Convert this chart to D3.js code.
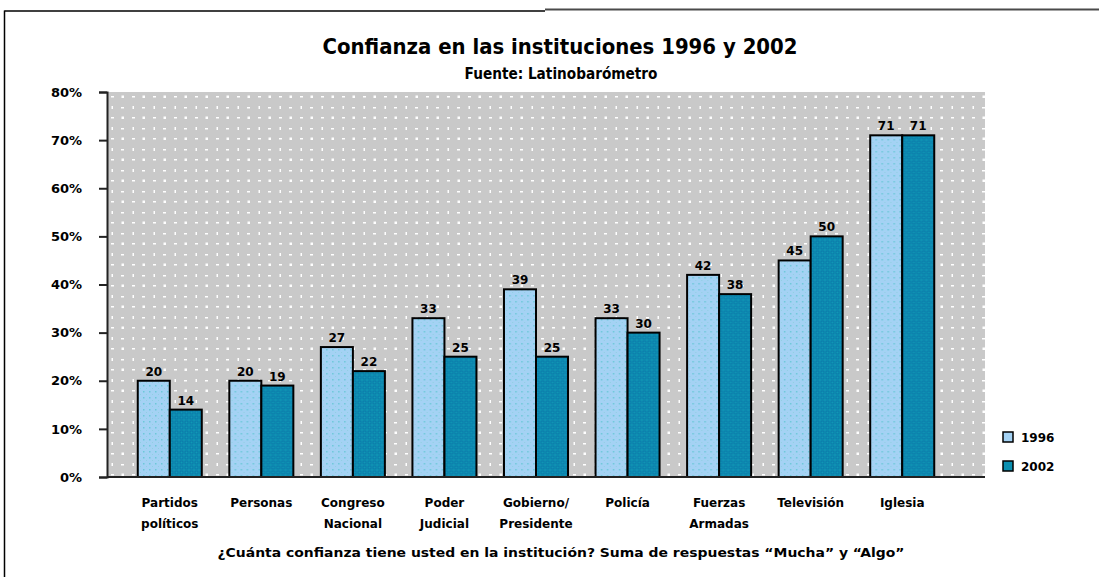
<!DOCTYPE html>
<html>
<head>
<meta charset="utf-8">
<script src="https://cdn.jsdelivr.net/npm/d3@7/dist/d3.min.js"></script>
<style>
  html, body { margin: 0; padding: 0; background: #fff; }
  svg { display: block; }
  text { font-family: "DejaVu Sans", Verdana, sans-serif; font-weight: bold; fill: #000; }
</style>
</head>
<body>
<svg id="chart" width="1099" height="577"></svg>
<script>
// Institutions (two-line labels) and confidence values per survey year
const categories = [
  ["Partidos", "políticos"],
  ["Personas"],
  ["Congreso", "Nacional"],
  ["Poder", "Judicial"],
  ["Gobierno/", "Presidente"],
  ["Policía"],
  ["Fuerzas", "Armadas"],
  ["Televisión"],
  ["Iglesia"]
];
const years = ["1996", "2002"];
const values1996 = [20, 20, 27, 33, 39, 33, 42, 45, 71];
const values2002 = [14, 19, 22, 25, 25, 30, 38, 50, 71];
const yTicks = [0, 10, 20, 30, 40, 50, 60, 70, 80];

const titleText = "Confianza en las instituciones 1996 y 2002";
const subtitleText = "Fuente: Latinobarómetro";
const footerText = "¿Cuánta confianza tiene usted en la institución? Suma de respuestas \u201CMucha\u201D y \u201CAlgo\u201D";

const svg = d3.select("#chart");
const W = 1099, H = 577;
const plot = { left: 107, right: 985, top: 92, bottom: 477 };

// ---- fill patterns ----
const defs = svg.append("defs");

// plot background: grey with rows of small white marks
const bg = defs.append("pattern").attr("id", "bgDots")
  .attr("patternUnits", "userSpaceOnUse")
  .attr("x", plot.left).attr("y", plot.top)
  .attr("width", 21).attr("height", 21);
bg.append("rect").attr("width", 21).attr("height", 21).attr("fill", "#c9c9c9");
[[4, 4, 3, 1.5], [14.5, 3.5, 2.5, 2.5], [4.5, 14, 1.5, 3], [14, 15, 3, 1.5]].forEach(d =>
  bg.append("rect").attr("x", d[0]).attr("y", d[1]).attr("width", d[2]).attr("height", d[3]).attr("fill", "#ffffff")
);

// 1996 bars: light blue with faint teal dots
const p1 = defs.append("pattern").attr("id", "fill1996")
  .attr("patternUnits", "userSpaceOnUse").attr("width", 6).attr("height", 6);
p1.append("rect").attr("width", 6).attr("height", 6).attr("fill", "#a4d2f4");
p1.append("rect").attr("x", 1).attr("y", 1).attr("width", 1.5).attr("height", 1.5).attr("fill", "#6cc8d8");
p1.append("rect").attr("x", 4).attr("y", 4).attr("width", 1).attr("height", 1).attr("fill", "#8fd0e0");

// 2002 bars: teal with a dark blue lattice
const p2 = defs.append("pattern").attr("id", "fill2002")
  .attr("patternUnits", "userSpaceOnUse").attr("width", 5).attr("height", 5);
p2.append("rect").attr("width", 5).attr("height", 5).attr("fill", "#0f98b6");
p2.append("rect").attr("x", 1).attr("y", 1).attr("width", 3).attr("height", 3)
  .attr("fill", "none").attr("stroke", "#0a6fa6").attr("stroke-width", 0.8);

const fills = ["url(#fill1996)", "url(#fill2002)"];
const legendFills = ["#a4d2f4", "#0b8fb0"];

// ---- outer frame ----
svg.append("line").attr("x1", 4.5).attr("x2", 545).attr("y1", 11).attr("y2", 11)
  .attr("stroke", "#000").attr("stroke-width", 1.5);
svg.append("line").attr("x1", 545).attr("x2", W).attr("y1", 9.5).attr("y2", 9.5)
  .attr("stroke", "#4a4a4a").attr("stroke-width", 2);
svg.append("line").attr("x1", 4.5).attr("x2", 4.5).attr("y1", 10.5).attr("y2", H)
  .attr("stroke", "#000").attr("stroke-width", 1.5);

// ---- scales ----
const y = d3.scaleLinear().domain([0, 80]).range([plot.bottom, plot.top]);
const x0 = d3.scaleBand().domain(d3.range(categories.length)).range([124, 948]).paddingInner(0).paddingOuter(0);
const x1 = d3.scaleBand().domain(years).range([0, x0.bandwidth()]).paddingInner(0).paddingOuter(0.43);

// ---- plot background ----
svg.append("rect")
  .attr("x", plot.left).attr("y", plot.top)
  .attr("width", plot.right - plot.left).attr("height", plot.bottom - plot.top)
  .attr("fill", "url(#bgDots)");

// ---- bars ----
const series = [values1996, values2002];
const groups = svg.append("g").selectAll("g")
  .data(categories.map((c, i) => i))
  .join("g")
  .attr("transform", i => `translate(${x0(i)},0)`);

groups.selectAll("rect")
  .data(i => years.map((yr, k) => ({ yr, k, v: series[k][i] })))
  .join("rect")
  .attr("x", d => x1(d.yr))
  .attr("y", d => y(d.v))
  .attr("width", x1.bandwidth())
  .attr("height", d => y(0) - y(d.v))
  .attr("fill", d => fills[d.k])
  .attr("stroke", "#000")
  .attr("stroke-width", 2);

groups.selectAll("text.val")
  .data(i => years.map((yr, k) => ({ yr, k, v: series[k][i] })))
  .join("text")
  .attr("class", "val")
  .attr("x", d => x1(d.yr) + x1.bandwidth() / 2)
  .attr("y", d => y(d.v) - 5)
  .attr("text-anchor", "middle")
  .attr("font-size", 12)
  .text(d => d.v);

// ---- axes ----
const yAxis = d3.axisLeft(y).tickValues(yTicks).tickSize(8).tickFormat(d => d + "%");
const gy = svg.append("g").attr("transform", `translate(${plot.left},0)`).call(yAxis);
gy.select(".domain").attr("stroke", "#222").attr("stroke-width", 2);
gy.selectAll(".tick line").attr("stroke", "#222").attr("stroke-width", 2);
gy.selectAll(".tick text")
  .attr("x", -25)
  .attr("font-size", 13)
  .attr("font-family", "\"DejaVu Sans\", sans-serif")
  .attr("font-weight", "bold")
  .attr("fill", "#000");

svg.append("line")
  .attr("x1", plot.left).attr("x2", plot.right)
  .attr("y1", plot.bottom).attr("y2", plot.bottom)
  .attr("stroke", "#222").attr("stroke-width", 2);

// category labels under the axis
const xl = svg.append("g").selectAll("text")
  .data(categories.map((c, i) => ({ c, i })))
  .join("text")
  .attr("text-anchor", "middle")
  .attr("font-size", 12)
  .attr("x", d => x0(d.i) + x0.bandwidth() / 2)
  .attr("y", 507);
xl.selectAll("tspan")
  .data(d => d.c.map((line, j) => ({ line, j, cx: x0(d.i) + x0.bandwidth() / 2 })))
  .join("tspan")
  .attr("x", d => d.cx)
  .attr("dy", d => d.j === 0 ? 0 : 21)
  .text(d => d.line);

// ---- titles ----
svg.append("text").attr("x", 560).attr("y", 54).attr("text-anchor", "middle")
  .attr("font-size", 22).attr("textLength", 475).attr("lengthAdjust", "spacingAndGlyphs")
  .text(titleText);
svg.append("text").attr("x", 561).attr("y", 79).attr("text-anchor", "middle")
  .attr("font-size", 15).attr("textLength", 193).attr("lengthAdjust", "spacingAndGlyphs")
  .text(subtitleText);
svg.append("text").attr("x", 561).attr("y", 557).attr("text-anchor", "middle")
  .attr("font-size", 12.5).attr("textLength", 687).attr("lengthAdjust", "spacingAndGlyphs")
  .text(footerText);

// ---- legend ----
const lg = svg.append("g").selectAll("g")
  .data(years.map((yr, k) => ({ yr, k })))
  .join("g")
  .attr("transform", d => `translate(1003,${432 + d.k * 29})`);
lg.append("rect").attr("width", 10).attr("height", 10)
  .attr("fill", d => legendFills[d.k]).attr("stroke", "#000").attr("stroke-width", 1.5);
lg.append("text").attr("x", 18).attr("y", 10).attr("font-size", 12).text(d => d.yr);
</script>
</body>
</html>
